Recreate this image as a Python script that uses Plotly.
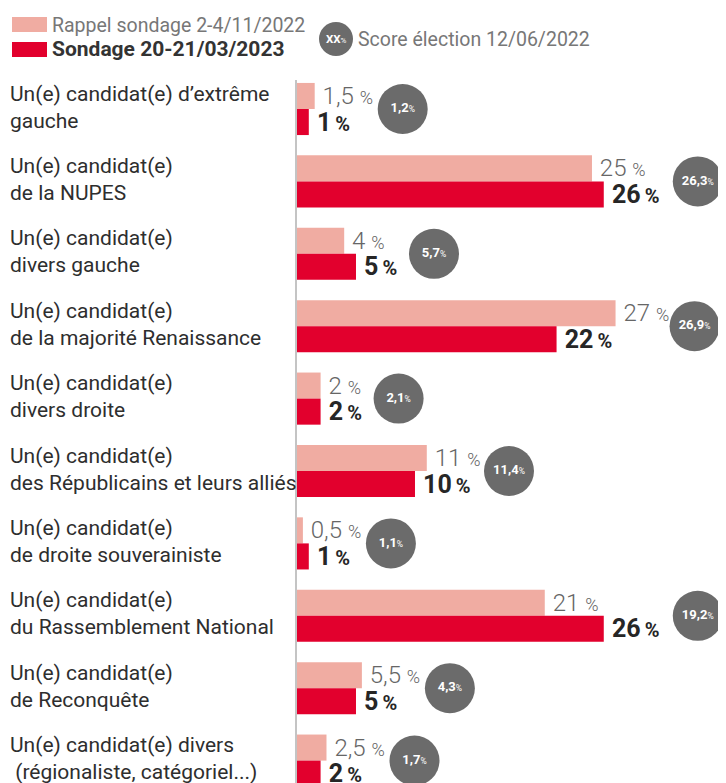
import plotly.graph_objects as go

# ---------------- data ----------------
categories = [
    "Un(e) candidat(e) d’extrême<br>gauche",
    "Un(e) candidat(e)<br>de la NUPES",
    "Un(e) candidat(e)<br>divers gauche",
    "Un(e) candidat(e)<br>de la majorité Renaissance",
    "Un(e) candidat(e)<br>divers droite",
    "Un(e) candidat(e)<br>des Républicains et leurs alliés",
    "Un(e) candidat(e)<br>de droite souverainiste",
    "Un(e) candidat(e)<br>du Rassemblement National",
    "Un(e) candidat(e)<br>de Reconquête",
    "Un(e) candidat(e) divers<br>\u00a0(régionaliste, catégoriel...)",
]
rappel_nov2022 = [1.5, 25, 4, 27, 2, 11, 0.5, 21, 5.5, 2.5]
sondage_mar2023 = [1, 26, 5, 22, 2, 10, 1, 26, 5, 2]
score_election_2022 = [1.2, 26.3, 5.7, 26.9, 2.1, 11.4, 1.1, 19.2, 4.3, 1.7]

legend_rappel = "Rappel sondage 2-4/11/2022"
legend_sondage = "Sondage 20-21/03/2023"
legend_score = "Score élection 12/06/2022"

# ---------------- styling / geometry ----------------
OFF = 8                      # default page margin of the html body
PAGE_W, PAGE_H = 726, 783
FIG_W, FIG_H = PAGE_W - OFF, PAGE_H - OFF
AXIS_PX, TOP_PX = 297, 80    # page pixels of the axis line and plot top
L, T = AXIS_PX - OFF, TOP_PX - OFF
W, H = FIG_W - L, FIG_H - T
XMAX = 36.36
PPU = W / XMAX               # pixels per percentage point
ROW = 72.4

LIGHT = "#f0aca2"
DARK = "#e2002d"
CIRCLE = "#6b6b6b"
FONT = "Roboto"


def fr(v):
    return f"{v:g}".replace(".", ",")


def px(xp):
    return (xp - OFF - L) / W


def py(yp):
    return 1 - (yp - OFF - T) / H


def digits_w(s, dw):
    return sum(9 if c == "," else dw for c in s)


light_text = [f"\u2009{fr(v)} <span style='font-size:18px'>%</span>" for v in rappel_nov2022]
dark_text = [f"\u2009<b>{fr(v)}<span style='font-size:20px'>\u2009%</span></b>" for v in sondage_mar2023]
circle_text = [f"<b>{fr(v)}</b><span style='font-size:8.5px'>%</span>" for v in score_election_2022]

# circle placed right after the longest value label of each row
circle_x = []
for a, b in zip(rappel_nov2022, sondage_mar2023):
    right_l = AXIS_PX + a * PPU + 8 + digits_w(fr(a), 13.5) + 12
    right_d = AXIS_PX + b * PPU + 8 + digits_w(fr(b), 16) + 22
    cpx = max(right_l, right_d) + 7 + 25
    circle_x.append((cpx - AXIS_PX) / PPU)

fig = go.Figure()
fig.add_trace(go.Bar(
    y=categories, x=rappel_nov2022, orientation="h", name=legend_rappel,
    marker=dict(color=LIGHT, line=dict(width=0)),
    text=light_text, textposition="outside", cliponaxis=False,
    constraintext="none",
    textfont=dict(family=FONT, size=24, color="#666666", weight=300),
    hoverinfo="skip",
))
fig.add_trace(go.Bar(
    y=categories, x=sondage_mar2023, orientation="h", name=legend_sondage,
    marker=dict(color=DARK, line=dict(width=0)),
    text=dark_text, textposition="outside", cliponaxis=False,
    constraintext="none",
    textfont=dict(family=FONT, size=25, color="#262626"),
    hoverinfo="skip",
))
fig.add_trace(go.Scatter(
    y=categories, x=circle_x, mode="markers+text", name=legend_score,
    marker=dict(size=50, color=CIRCLE, line=dict(width=0)),
    text=circle_text, textposition="middle center",
    textfont=dict(family=FONT, size=13, color="white"),
    cliponaxis=False, hoverinfo="skip",
))

annotations = []
for c in categories:
    annotations.append(dict(
        xref="paper", yref="y", x=px(8), y=c, xanchor="left", yanchor="middle",
        yshift=2, text=c, align="left", showarrow=False,
        font=dict(family=FONT, size=21, color="#2e2e2e"),
    ))

# custom legend
shapes = [
    dict(type="rect", xref="paper", yref="paper", x0=px(12), x1=px(47), y0=py(32), y1=py(17),
         fillcolor=LIGHT, line=dict(width=0)),
    dict(type="rect", xref="paper", yref="paper", x0=px(12), x1=px(47), y0=py(57), y1=py(42),
         fillcolor=DARK, line=dict(width=0)),
    dict(type="circle", xref="paper", yref="paper", x0=px(319), x1=px(353), y0=py(56), y1=py(22),
         fillcolor=CIRCLE, line=dict(width=0)),
]
annotations += [
    dict(xref="paper", yref="paper", x=px(50), y=py(25), xanchor="left", yanchor="middle",
         text=legend_rappel, showarrow=False, font=dict(family=FONT, size=19.5, color="#777777")),
    dict(xref="paper", yref="paper", x=px(50), y=py(49), xanchor="left", yanchor="middle",
         text=f"<b>{legend_sondage}</b>", showarrow=False, font=dict(family=FONT, size=21, color="#333333")),
    dict(xref="paper", yref="paper", x=px(336), y=py(39), xanchor="center", yanchor="middle",
         text="<b>XX</b><span style='font-size:8px'>%</span>", showarrow=False,
         font=dict(family=FONT, size=11.5, color="white")),
    dict(xref="paper", yref="paper", x=px(356), y=py(39), xanchor="left", yanchor="middle",
         text=legend_score, showarrow=False, font=dict(family=FONT, size=19.5, color="#777777")),
]

top_idx = -(109 - TOP_PX) / ROW
bottom_idx = top_idx + H / ROW

fig.update_layout(
    width=FIG_W, height=FIG_H,
    margin=dict(l=L, r=0, t=T, b=0),
    paper_bgcolor="white", plot_bgcolor="white",
    barmode="group", bargap=0.28, bargroupgap=0,
    showlegend=False,
    xaxis=dict(range=[0, XMAX], showgrid=False, zeroline=False, showticklabels=False,
               showline=False, fixedrange=True),
    yaxis=dict(type="category", range=[bottom_idx, top_idx], showgrid=False,
               showticklabels=False, ticks="", showline=True, linecolor="#c4c4c4",
               linewidth=1.5, zeroline=False, fixedrange=True),
    shapes=shapes, annotations=annotations,
    font=dict(family=FONT),
)

fig.write_html("out.html")
